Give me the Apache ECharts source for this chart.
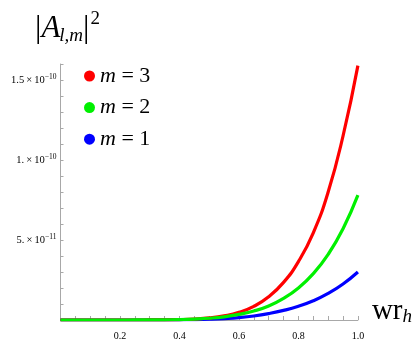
<!DOCTYPE html>
<html>
<head>
<meta charset="utf-8">
<script src="https://cdn.jsdelivr.net/npm/echarts@6/dist/echarts.min.js"></script>
<style>html,body{margin:0;padding:0;background:#fff}#c{width:415px;height:346px}</style>
</head>
<body>
<div id="c"></div>
<script>
// x values (wr_h)
const xs = [0,0.05,0.1,0.15,0.2,0.25,0.3,0.35,0.4,0.45,0.5,0.55,0.6,0.65,0.7,0.75,0.8,0.85,0.9,0.95,1.0];
// |A_{l,m}|^2 in units of 1e-11
const m3 = [0,0,0,0,0,0,0.004,0.01,0.025,0.06,0.13,0.26,0.48,0.85,1.45,2.35,3.65,5.45,8.0,11.5,15.9];
const m2 = [0,0,0,0,0,0.002,0.005,0.013,0.028,0.06,0.11,0.2,0.35,0.56,0.88,1.35,2.0,2.9,4.1,5.7,7.8];
const m1 = [0,0,0,0,0,0,0.002,0.005,0.012,0.025,0.05,0.09,0.15,0.25,0.4,0.6,0.86,1.2,1.66,2.25,3.0];
const yTickValues = [5,10,15];
const yTickLabels = ['5.\u2009×\u200910{s|−11}','1.\u2009×\u200910{s|−10}','1.5\u2009×\u200910{s|−10}'];
const xTickValues = [0.2,0.4,0.6,0.8,1.0];
const xTickLabels = ['0.2','0.4','0.6','0.8','1.0'];

const pairs = arr => xs.map((x,i)=>[x,arr[i]]);
const serif = 'Liberation Serif';
const axisCol = '#a8a8a8';

const chart = echarts.init(document.getElementById('c'));
chart.setOption({
  animation:false,
  grid:{left:60.5,right:53.3,top:64,bottom:26},
  title:{
    text:'{bar||}{A|A}{sub|l,m}{bar||}{sup|2}',
    left:30, top:5,
    textStyle:{
      fontWeight:'normal',
      rich:{
        bar:{fontFamily:serif,fontSize:32,fontWeight:'normal',color:'#000'},
        A:{fontFamily:serif,fontSize:31,fontStyle:'italic',fontWeight:'normal',color:'#000'},
        sub:{fontFamily:serif,fontSize:19,fontStyle:'italic',fontWeight:'normal',color:'#000',padding:[14,0,0,-1]},
        sup:{fontFamily:serif,fontSize:19,fontWeight:'normal',color:'#000',padding:[0,0,18,1]}
      }
    }
  },
  legend:{
    left:79, top:60, orient:'vertical', icon:'circle',
    itemWidth:11, itemHeight:11, itemGap:9.6,
    data:['m3','m2','m1'],
    formatter: n => '{i|m} = ' + n.slice(1),
    textStyle:{fontFamily:serif,fontSize:22,color:'#000',lineHeight:22,
      rich:{i:{fontFamily:serif,fontSize:22,fontStyle:'italic',color:'#000'}}}
  },
  xAxis:{
    type:'value', min:0, max:1, interval:0.05,
    name:'{w|wr}{h|h}', nameLocation:'end', nameGap:14,
    nameTextStyle:{verticalAlign:'bottom',padding:[0,0,-6,0],
      rich:{w:{fontFamily:serif,fontSize:29,color:'#000'},
            h:{fontFamily:serif,fontSize:19,fontStyle:'italic',color:'#000',padding:[10,0,0,0]}}},
    axisLine:{lineStyle:{color:axisCol,width:1}},
    axisTick:{inside:true,length:4,lineStyle:{color:axisCol}},
    splitLine:{show:false},
    axisLabel:{margin:11,fontFamily:serif,fontSize:10,color:'#000',
      formatter:v=>{const k=xTickValues.findIndex(t=>Math.abs(t-v)<1e-6);return k<0?'':xTickLabels[k];}}
  },
  yAxis:{
    type:'value', min:0, max:16, interval:1,
    axisLine:{show:true,lineStyle:{color:axisCol,width:1}},
    axisTick:{show:true,inside:true,length:3,lineStyle:{color:axisCol}},
    splitLine:{show:false},
    axisLabel:{margin:4,fontFamily:serif,fontSize:10.5,color:'#000',
      formatter:v=>{const k=yTickValues.findIndex(t=>Math.abs(t-v)<1e-6);return k<0?'':yTickLabels[k];},
      rich:{s:{fontFamily:serif,fontSize:7.5,color:'#000',padding:[0,0,6,0]}}}
  },
  series:[
    {name:'m1',type:'line',data:pairs(m1),smooth:true,showSymbol:false,color:'#0000ff',lineStyle:{width:3.2},z:2},
    {name:'m3',type:'line',data:pairs(m3),smooth:true,showSymbol:false,color:'#ff0000',lineStyle:{width:3.2},z:3},
    {name:'m2',type:'line',data:pairs(m2),smooth:true,showSymbol:false,color:'#00f000',lineStyle:{width:3.2},z:4}
  ]
});
</script>
</body>
</html>
